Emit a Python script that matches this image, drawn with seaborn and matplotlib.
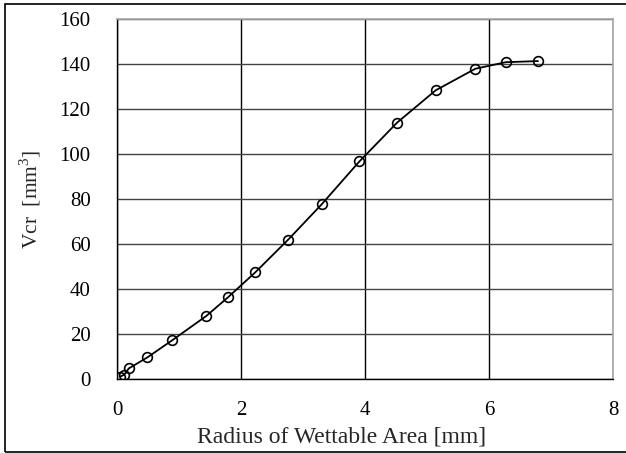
import numpy as np
import pandas as pd
import seaborn as sns
import matplotlib
matplotlib.use('Agg')
import matplotlib.pyplot as plt
from matplotlib.patches import Rectangle

# radius of wettable area [mm] vs critical volume [mm^3]
radius = [0.05, 0.12, 0.19, 0.49, 0.89, 1.44, 1.79, 2.23, 2.76, 3.30,
          3.91, 4.52, 5.14, 5.78, 6.27, 6.79]
vcr = [1.0, 2.0, 4.7, 9.6, 17.2, 28.0, 36.3, 47.4, 61.9, 77.6,
       96.7, 114.0, 128.3, 137.9, 140.8, 141.3]
xticks = [0, 2, 4, 6, 8]
yticks = [0, 20, 40, 60, 80, 100, 120, 140, 160]

df = pd.DataFrame({'r': radius, 'v': vcr})

sns.set_style('white')
plt.rcParams['font.family'] = ['Liberation Serif', 'DejaVu Serif']
plt.rcParams['mathtext.fontset'] = 'custom'
plt.rcParams['mathtext.rm'] = 'Liberation Serif'

fig = plt.figure(figsize=(6.26, 4.53), dpi=100)
ax = fig.add_axes([117 / 626, 74 / 453, 496 / 626, 360 / 453])

sns.lineplot(data=df, x='r', y='v', ax=ax, color='black', linewidth=1.3,
             marker='o', markersize=7, markerfacecolor='none',
             markeredgecolor='black', markeredgewidth=1.2)

ax.set_xlim(0, 8)
ax.set_ylim(0, 160)
ax.set_xticks(xticks)
ax.set_yticks(yticks)
ax.grid(True, axis='y', color='#444444', linewidth=1)
ax.grid(True, axis='x', color='black', linewidth=1)
ax.set_axisbelow(True)

for side in ['left', 'bottom']:
    ax.spines[side].set_color('black')
    ax.spines[side].set_linewidth(1)
for side in ['right', 'top']:
    ax.spines[side].set_color('#a8a8a8')
    ax.spines[side].set_linewidth(1.2)

ax.tick_params(axis='y', direction='in', length=7, width=1.2, pad=19,
               labelsize=15, colors='black')
ax.tick_params(axis='x', direction='in', length=4, width=1, pad=16,
               labelsize=15, colors='black')

ax.set_xlabel('Radius of Wettable Area [mm]', fontsize=17)
ax.xaxis.set_label_coords(0.4536, -0.132)
ax.set_ylabel('Vcr  [mm$^3$]', fontsize=15.5, labelpad=12)

# outer frame (right edge cut off in the original)
fig.patches.append(Rectangle((5 / 626, 1.5 / 453), 630 / 626, 447.5 / 453,
                             transform=fig.transFigure, fill=False,
                             edgecolor='black', linewidth=1.2))

fig.savefig('out.png', dpi=100)
